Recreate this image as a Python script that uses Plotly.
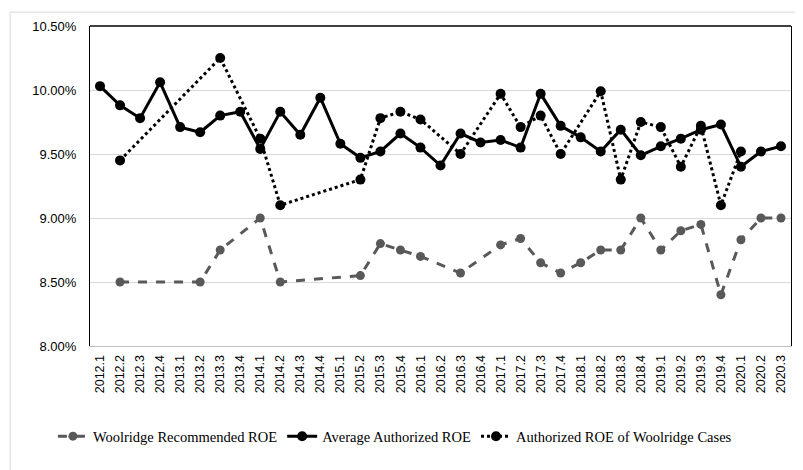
import plotly.graph_objects as go

quarters = ["2012.1","2012.2","2012.3","2012.4","2013.1","2013.2","2013.3","2013.4",
            "2014.1","2014.2","2014.3","2014.4","2015.1","2015.2","2015.3","2015.4",
            "2016.1","2016.2","2016.3","2016.4","2017.1","2017.2","2017.3","2017.4",
            "2018.1","2018.2","2018.3","2018.4","2019.1","2019.2","2019.3","2019.4",
            "2020.1","2020.2","2020.3"]

woolridge_recommended = [None, 8.50, None, None, None, 8.50, 8.75, None,
                         9.00, 8.50, None, None, None, 8.55, 8.80, 8.75,
                         8.70, None, 8.57, None, 8.79, 8.84, 8.65, 8.57,
                         8.65, 8.75, 8.75, 9.00, 8.75, 8.90, 8.95, 8.40,
                         8.83, 9.00, 9.00]

average_authorized = [10.03, 9.88, 9.78, 10.06, 9.71, 9.67, 9.80, 9.83,
                      9.54, 9.83, 9.65, 9.94, 9.58, 9.47, 9.52, 9.66,
                      9.55, 9.41, 9.66, 9.59, 9.61, 9.55, 9.97, 9.72,
                      9.63, 9.52, 9.69, 9.49, 9.56, 9.62, 9.69, 9.73,
                      9.40, 9.52, 9.56]

woolridge_cases = [None, 9.45, None, None, None, None, 10.25, None,
                   9.62, 9.10, None, None, None, 9.30, 9.78, 9.83,
                   9.77, None, 9.50, None, 9.97, 9.71, 9.80, 9.50,
                   None, 9.99, 9.30, 9.75, 9.71, 9.40, 9.72, 9.10,
                   9.52, None, None]

y_ticks = [8.0, 8.5, 9.0, 9.5, 10.0, 10.5]
y_tick_labels = ["8.00%", "8.50%", "9.00%", "9.50%", "10.00%", "10.50%"]

fig = go.Figure()
fig.add_trace(go.Scatter(
    x=quarters, y=woolridge_recommended, name="Woolridge Recommended ROE",
    mode="lines+markers", connectgaps=True,
    line=dict(color="#595959", width=3, dash="dash"),
    marker=dict(color="#595959", size=9)))
fig.add_trace(go.Scatter(
    x=quarters, y=average_authorized, name="Average Authorized ROE",
    mode="lines+markers", connectgaps=True,
    line=dict(color="#000000", width=3),
    marker=dict(color="#000000", size=10)))
fig.add_trace(go.Scatter(
    x=quarters, y=woolridge_cases, name="Authorized ROE of Woolridge Cases",
    mode="lines+markers", connectgaps=True,
    line=dict(color="#000000", width=3, dash="dot"),
    marker=dict(color="#000000", size=10)))

# page body has an 8px margin; figure is sized so the plot area lands at x 90-792, y 23-346
fig.update_layout(
    width=795, height=462,
    margin=dict(l=82, r=11, t=15, b=124),
    paper_bgcolor="white", plot_bgcolor="white",
    showlegend=True,
    legend=dict(orientation="h", x=0.435, xanchor="center", y=-0.282, yanchor="middle",
                font=dict(family="Liberation Serif, Times New Roman, serif", size=14.5,
                          color="#000000"),
                itemwidth=30, tracegroupgap=0),
    xaxis=dict(type="category", tickangle=-90, showgrid=False,
               tickfont=dict(family="Liberation Sans, Arial, sans-serif", size=12.5,
                             color="#000000"),
               showline=True, linecolor="#bfbfbf", linewidth=1,
               ticks="outside", ticklen=3, tickcolor="rgba(0,0,0,0)",
               range=[-0.5, len(quarters) - 0.5]),
    yaxis=dict(range=[8.0, 10.5], tickvals=y_ticks, ticktext=y_tick_labels,
               showgrid=True, gridcolor="#d9d9d9", gridwidth=1,
               showline=True, linecolor="#000000", linewidth=1, mirror=True,
               zeroline=False, ticks="outside", ticklen=10, tickcolor="rgba(0,0,0,0)",
               tickfont=dict(family="Liberation Sans, Arial, sans-serif", size=13,
                             color="#000000")),
    shapes=[
        dict(type="line", xref="paper", yref="paper", x0=0, x1=1, y0=1, y1=1,
             line=dict(color="#000000", width=1.5)),
        dict(type="rect", xref="paper", yref="paper",
             x0=(10 - 90) / 702, x1=(810 - 90) / 702,
             y0=(346 - 480) / 323, y1=(346 - 9) / 323,
             line=dict(color="#d9d9d9", width=1), layer="below"),
    ],
)

fig.write_html("out.html")
